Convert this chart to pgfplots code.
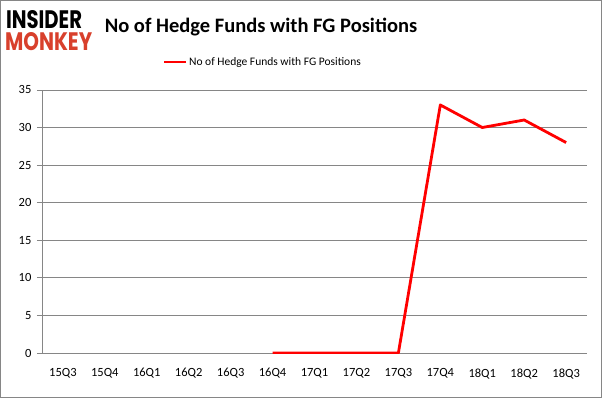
\documentclass[border=0pt]{standalone}
\usepackage{pgfplots}
\pgfplotsset{compat=1.18}
\usepackage{fontspec}
\usepackage{graphicx}
\setmainfont{Carlito}
\newfontfamily\logofont{Poppins}
\definecolor{gridgray}{HTML}{868686}
\definecolor{logored}{HTML}{D8402C}
\begin{document}
\begin{tikzpicture}
\draw[gridgray, line width=0.8pt] (0.5pt,0.5pt) rectangle (601.5pt,397.5pt);
\node[anchor=south west, inner sep=0pt, align=left] at (5pt,347pt) {\hspace*{1pt}\resizebox{76pt}{18pt}{\logofont\bfseries INSIDER}\\[3pt]\textcolor{logored}{\resizebox{87pt}{18pt}{\logofont\bfseries MONKEY}}};
\node[font=\fontsize{20.5}{22}\selectfont\bfseries] at (261pt,371pt) {No of Hedge Funds with FG Positions};
\begin{axis}[
  at={(42pt,45pt)}, anchor=south west,
  scale only axis, width=545pt, height=263pt,
  xmin=-0.5, xmax=12.5, ymin=0, ymax=35,
  axis x line*=bottom, axis y line*=left,
  axis line style={gridgray, line width=0.8pt},
  xtick={0,...,12},
  xticklabels={15Q3,15Q4,16Q1,16Q2,16Q3,16Q4,17Q1,17Q2,17Q3,17Q4,18Q1,18Q2,18Q3},
  x tick style={draw=none},
  extra x ticks={-0.5,0.5,1.5,2.5,3.5,4.5,5.5,6.5,7.5,8.5,9.5,10.5,11.5,12.5},
  extra x tick labels={},
  extra x tick style={tick style={draw=gridgray, line width=0.8pt}, major tick length=5pt, tick align=outside, grid=none},
  ytick={0,5,...,35},
  y tick style={draw=gridgray, line width=0.8pt},
  major tick length=5pt, tick align=outside,
  ymajorgrids, grid style={gridgray, line width=0.8pt},
  tick label style={font=\fontsize{12.5}{13}\selectfont},
  /pgf/number format/assume math mode=true,
  xticklabel style={yshift=-7pt},
  yticklabel style={xshift=-2pt},
  legend style={at={(0.222,1.106)}, anchor=west, draw=none, fill=none, font=\fontsize{11.5}{12}\selectfont, inner sep=0pt},
  legend cell align=left,
  legend image code/.code={\draw[#1, line width=2pt] (0pt,0pt) -- (22pt,0pt);},
]
\addplot[red, line width=2.8pt, line join=round] coordinates {
(5,0) (6,0) (7,0) (8,0) (9,33) (10,30) (11,31) (12,28)
};
\addlegendentry{No of Hedge Funds with FG Positions}
\end{axis}
\end{tikzpicture}
\end{document}
